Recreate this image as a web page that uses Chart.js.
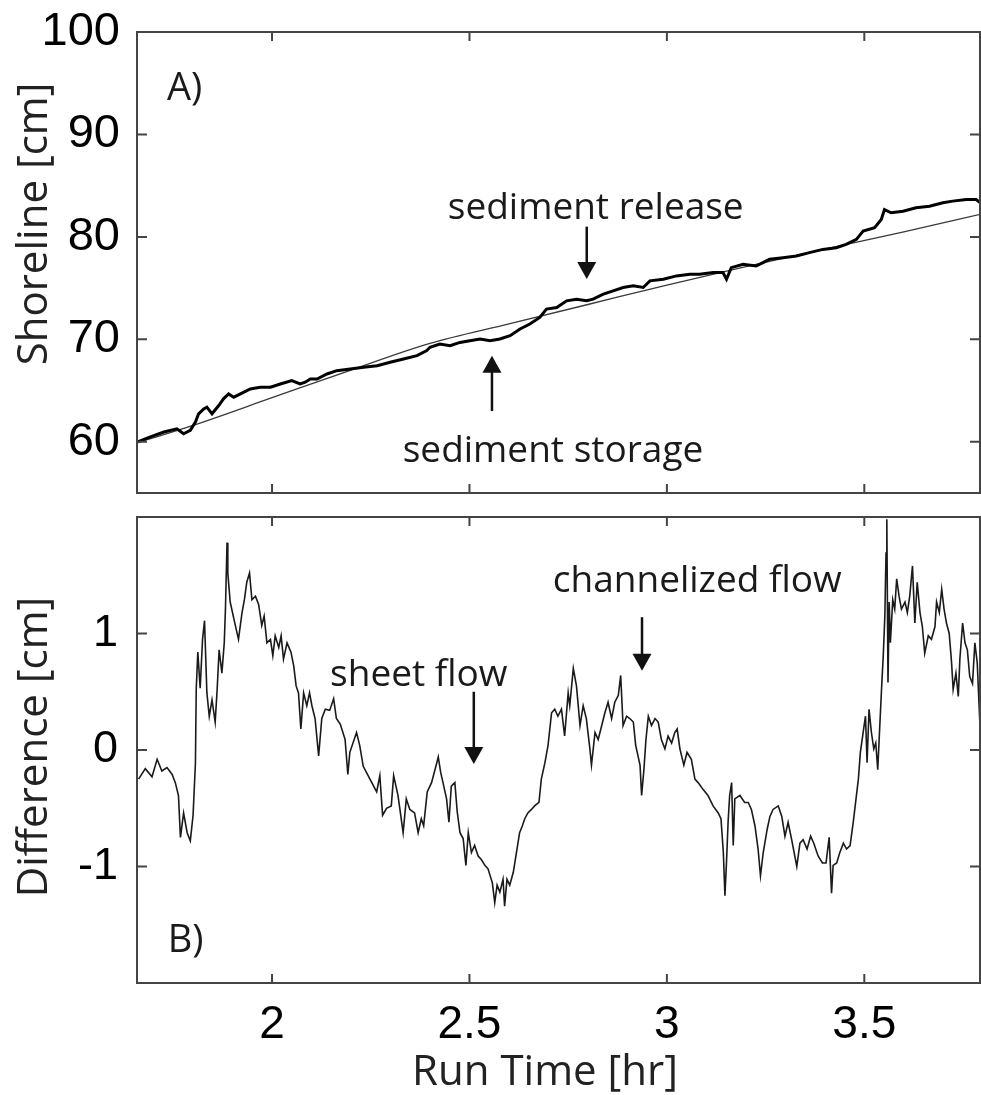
<!DOCTYPE html>
<html>
<head>
<meta charset="utf-8">
<script src="https://cdn.jsdelivr.net/npm/chart.js@4.4.0/dist/chart.umd.min.js"></script>
<style>
body { margin: 0; background: #fff; width: 981px; height: 1095px; position: relative; overflow: hidden; }
#arriba { position: absolute; left: 0; top: 0; }
#abajo { position: absolute; left: 0; top: 505px; }
</style>
</head>
<body>
<canvas id="arriba" width="981" height="505"></canvas>
<canvas id="abajo" width="981" height="590"></canvas>
<script>
// tiempo de corrida [hr] y diferencia [cm] (panel B)
var diffTime = [1.662,1.679,1.696,1.709,1.721,1.734,1.747,1.755,1.763,1.768,1.776,1.785,1.793,1.800,1.806,1.808,1.812,1.818,1.824,1.829,1.835,1.841,1.848,1.856,1.861,1.866,1.873,1.879,1.882,1.886,1.888,1.894,1.907,1.915,1.924,1.930,1.936,1.943,1.949,1.958,1.966,1.974,1.980,1.987,1.996,2.002,2.008,2.017,2.023,2.029,2.038,2.048,2.055,2.061,2.067,2.073,2.080,2.088,2.095,2.101,2.109,2.118,2.126,2.135,2.146,2.156,2.163,2.173,2.185,2.192,
  2.197,2.214,2.222,2.231,2.248,2.265,2.273,2.280,2.290,2.302,2.308,2.319,2.332,2.340,2.349,2.361,2.370,2.378,2.384,2.393,2.404,2.415,2.421,2.427,2.433,2.442,2.448,2.454,2.463,2.469,2.476,2.484,2.491,2.497,2.505,2.513,2.522,2.530,2.539,2.547,2.558,2.564,2.570,2.577,2.585,2.589,2.595,2.602,2.611,2.619,2.627,2.634,2.640,2.648,2.657,2.665,2.676,2.682,2.691,2.699,2.708,2.716,2.724,2.733,2.741,2.750,
  2.754,2.763,2.771,2.780,2.788,2.796,2.805,2.809,2.818,2.826,2.835,2.843,2.851,2.860,2.868,2.877,2.883,2.889,2.898,2.906,2.915,2.921,2.932,2.936,2.942,2.947,2.953,2.961,2.970,2.978,2.986,2.995,3.003,3.012,3.020,3.026,3.033,3.043,3.051,3.062,3.071,3.079,3.092,3.104,3.117,3.130,3.137,3.143,3.147,3.151,3.155,3.159,3.164,3.168,3.172,3.185,3.197,3.206,3.214,3.223,3.231,3.237,3.244,3.254,
  3.261,3.269,3.282,3.291,3.299,3.307,3.316,3.329,3.337,3.345,3.355,3.364,3.372,3.383,3.394,3.403,3.411,3.417,3.421,3.430,3.438,3.447,3.455,3.464,3.472,3.479,3.485,3.490,3.497,3.503,3.507,3.512,3.518,3.524,3.529,3.534,3.538,3.544,3.548,3.552,3.555,3.557,3.560,3.563,3.566,3.572,3.577,3.582,3.588,3.594,3.603,3.609,3.615,3.622,3.628,3.634,3.641,3.647,3.653,3.662,3.670,3.679,3.683,3.690,3.696,3.702,3.708,3.715,3.721,3.725,3.732,3.738,3.742,3.749,3.755,3.761,3.767,3.774,3.780,3.786,3.793];
var diffCm = [-0.25,-0.16,-0.23,-0.08,-0.18,-0.15,-0.21,-0.28,-0.39,-0.75,-0.54,-0.71,-0.78,-0.56,-0.11,0.52,0.84,0.53,0.95,1.11,0.49,0.29,0.43,0.24,0.52,0.86,0.66,0.92,1.21,1.78,1.52,1.27,1.07,0.95,1.18,1.29,1.44,1.52,1.29,1.32,1.25,1.07,1.15,0.92,0.95,0.81,0.98,0.88,0.98,0.78,0.92,0.84,0.72,0.55,0.49,0.18,0.49,0.38,0.49,0.38,0.27,-0.05,0.27,0.35,0.34,0.44,0.27,0.22,0.09,-0.21,
  -0.02,0.15,0.04,-0.14,-0.25,-0.36,-0.22,-0.56,-0.50,-0.48,-0.22,-0.39,-0.71,-0.42,-0.51,-0.54,-0.71,-0.59,-0.65,-0.36,-0.28,-0.14,-0.06,-0.19,-0.28,-0.42,-0.62,-0.31,-0.28,-0.53,-0.71,-0.76,-0.99,-0.71,-0.88,-0.82,-0.91,-0.94,-0.99,-1.02,-1.14,-1.31,-1.16,-1.22,-1.11,-1.34,-1.11,-1.16,-1.05,-0.88,-0.71,-0.65,-0.59,-0.54,-0.51,-0.48,-0.45,-0.25,-0.11,0.04,0.32,0.35,0.29,0.35,0.12,0.49,
  0.38,0.70,0.55,0.21,0.38,0.27,0.01,-0.13,0.15,0.09,0.21,0.32,0.41,0.27,0.41,0.47,0.64,0.21,0.29,0.27,0.24,0.04,-0.13,-0.39,-0.16,0.09,0.29,0.21,0.27,0.24,0.09,0.01,0.12,0.06,0.15,0.18,0.01,-0.13,-0.02,-0.08,-0.25,-0.28,-0.34,-0.39,-0.48,-0.54,-0.59,-0.88,-1.25,-0.96,-0.62,-0.39,-0.28,-0.82,-0.42,-0.39,-0.45,-0.45,-0.51,-0.65,-0.85,-1.08,-0.88,-0.68,
  -0.57,-0.51,-0.48,-0.57,-0.74,-0.62,-0.77,-1.00,-0.80,-0.77,-0.85,-0.74,-0.80,-0.91,-0.97,-0.97,-0.75,-1.23,-0.99,-0.97,-0.88,-0.80,-0.85,-0.82,-0.62,-0.42,-0.25,-0.02,0.15,0.29,-0.11,0.35,0.15,0.01,0.06,-0.17,0.12,0.55,0.81,1.15,1.69,1.98,0.58,1.27,0.92,1.29,1.21,1.47,1.32,1.21,1.27,1.18,1.32,1.58,1.09,1.44,1.18,1.06,0.83,0.98,0.95,1.06,1.27,1.18,1.38,1.21,1.09,1.00,0.75,0.52,0.66,0.46,0.78,1.09,0.92,0.86,0.63,0.57,0.92,0.75,0.20];

// linea de costa medida [cm] (panel A)
var shoreTime = [1.658,1.692,1.726,1.759,1.776,1.793,1.806,1.814,1.827,1.835,1.848,1.865,1.877,1.890,1.903,1.920,1.945,1.970,1.996,2.021,2.050,2.071,2.084,2.097,2.114,2.139,2.164,2.198,2.232,2.266,2.299,2.333,2.367,2.392,
  2.400,2.425,2.451,2.476,2.501,2.527,2.552,2.577,2.603,2.628,2.653,2.678,2.695,2.721,2.746,2.771,2.797,2.813,2.839,2.864,2.889,2.915,2.940,2.957,2.991,3.024,3.058,
  3.083,3.117,3.142,3.151,3.163,3.193,3.226,3.260,3.294,3.328,3.361,3.395,3.429,3.454,3.480,3.497,3.526,3.543,3.551,3.568,3.598,3.631,3.665,3.699,3.724,3.758,3.783,3.794];
var shoreCm = [59.97,60.47,60.95,61.27,60.78,61.11,61.92,62.73,63.21,63.38,62.73,63.54,64.19,64.67,64.35,64.67,65.16,65.32,65.32,65.64,65.97,65.64,65.81,66.13,66.13,66.62,66.94,67.11,67.27,67.43,67.76,68.08,68.41,68.90,
  69.22,69.54,69.38,69.70,69.87,70.03,69.87,70.03,70.36,71.01,71.49,72.14,72.95,73.11,73.76,73.92,73.76,73.92,74.41,74.73,75.06,75.22,75.06,75.71,75.87,76.19,76.35,
  76.35,76.52,76.52,75.87,77.00,77.33,77.16,77.81,77.97,78.13,78.46,78.78,78.94,79.27,79.76,80.57,80.89,81.70,82.67,82.35,82.51,82.84,83.00,83.33,83.49,83.65,83.65,83.33];

// ajuste suave (linea delgada)
var fitTime = [1.658,1.8,2.0,2.2,2.4,2.6,2.8,3.0,3.2,3.4,3.6,3.794];
var fitCm = [59.9,61.6,64.3,67.0,69.6,71.5,73.4,75.3,77.1,78.8,80.5,82.2];

var xTicks = [2, 2.5, 3, 3.5];
var shoreTicks = [60, 70, 80, 90, 100];
var diffTicks = [-1, 0, 1];

var xMin = 1.658, xMax = 3.793;

function pares(xs, ys) {
    var out = [];
    for (var i = 0; i < xs.length; i++) {
        out.push({ x: xs[i], y: ys[i] });
    }
    return out;
}

// ancho fijo del eje y, sin relleno extra por las etiquetas
function ejeY(s) {
    s.width = 137;
    s.paddingTop = 0;
    s.paddingBottom = 0;
}

function marco(id, extra) {
    return {
        id: id,
        afterDatasetsDraw: function(chart) {
            var ctx = chart.ctx;
            var a = chart.chartArea;
            var xs = chart.scales.x;
            var ys = chart.scales.y;
            ctx.save();
            ctx.strokeStyle = '#444';
            ctx.lineWidth = 2;
            ctx.strokeRect(a.left, a.top, a.right - a.left, a.bottom - a.top);
            ctx.beginPath();
            xTicks.forEach(function(v) {
                var p = xs.getPixelForValue(v);
                ctx.moveTo(p, a.bottom); ctx.lineTo(p, a.bottom - 9);
                ctx.moveTo(p, a.top); ctx.lineTo(p, a.top + 9);
            });
            extra.yTicks.forEach(function(v) {
                var p = ys.getPixelForValue(v);
                ctx.moveTo(a.left, p); ctx.lineTo(a.left + 10, p);
                ctx.moveTo(a.right, p); ctx.lineTo(a.right - 10, p);
            });
            ctx.stroke();

            ctx.fillStyle = '#111';
            ctx.strokeStyle = '#111';
            ctx.lineWidth = 2.5;
            extra.flechas.forEach(function(f) {
                var x = xs.getPixelForValue(f.x);
                var y0 = ys.getPixelForValue(f.desde);
                var y1 = ys.getPixelForValue(f.hasta);
                var dir = y1 > y0 ? 1 : -1;
                ctx.beginPath();
                ctx.moveTo(x, y0);
                ctx.lineTo(x, y1 - dir * 15);
                ctx.stroke();
                ctx.beginPath();
                ctx.moveTo(x - 9.5, y1 - dir * 17);
                ctx.lineTo(x + 9.5, y1 - dir * 17);
                ctx.lineTo(x, y1);
                ctx.closePath();
                ctx.fill();
            });

            ctx.fillStyle = '#1a1a1a';
            ctx.textAlign = 'left';
            ctx.textBaseline = 'alphabetic';
            extra.notas.forEach(function(n) {
                ctx.font = n.size + 'px "Open Sans"';
                ctx.fillText(n.text, xs.getPixelForValue(n.x), ys.getPixelForValue(n.y));
            });

            ctx.font = '42px "Open Sans"';
            ctx.fillStyle = '#222';
            extra.titulos.forEach(function(t) {
                ctx.save();
                ctx.translate(t.cx, t.cy);
                ctx.rotate(t.rot);
                ctx.textAlign = 'center';
                ctx.textBaseline = t.base;
                ctx.fillText(t.text, 0, 0);
                ctx.restore();
            });
            ctx.restore();
        }
    };
}

Chart.defaults.font.family = '"Liberation Sans", Arial, sans-serif';
Chart.defaults.color = '#000';

var chartA = new Chart(document.getElementById('arriba'), {
    type: 'line',
    data: {
        datasets: [{
            data: pares(shoreTime, shoreCm),
            borderColor: '#000',
            borderWidth: 3,
            pointRadius: 0,
            tension: 0
        }, {
            data: pares(fitTime, fitCm),
            borderColor: '#3a3a3a',
            borderWidth: 1.3,
            pointRadius: 0,
            cubicInterpolationMode: 'monotone'
        }]
    },
    options: {
        responsive: false,
        animation: false,
        devicePixelRatio: 1,
        layout: { padding: { top: 32, right: 1, bottom: 12, left: 0 } },
        plugins: { legend: { display: false }, tooltip: { enabled: false } },
        scales: {
            x: { type: 'linear', min: xMin, max: xMax, display: false },
            y: {
                min: 55, max: 100,
                afterBuildTicks: function(s) { s.ticks = shoreTicks.map(function(v) { return { value: v }; }); },
                afterFit: ejeY,
                grid: { display: false },
                border: { display: false },
                ticks: { font: { size: 47 }, padding: 9, color: '#000' }
            }
        }
    },
    plugins: [marco('marcoA', {
        yTicks: shoreTicks,
        flechas: [
            { x: 2.797, desde: 81.0, hasta: 75.9 },
            { x: 2.557, desde: 63.0, hasta: 68.4 }
        ],
        notas: [
            { text: 'A)', x: 1.734, y: 93.4, size: 38 },
            { text: 'sediment release', x: 2.445, y: 81.7, size: 37 },
            { text: 'sediment storage', x: 2.331, y: 58.05, size: 37 }
        ],
        titulos: [
            { text: 'Shoreline [cm]', cx: 35, cy: 224, rot: -Math.PI / 2, base: 'middle' }
        ]
    })]
});

var chartB = new Chart(document.getElementById('abajo'), {
    type: 'line',
    data: {
        datasets: [{
            data: pares(diffTime, diffCm),
            borderColor: '#1a1a1a',
            borderWidth: 1.6,
            pointRadius: 0,
            tension: 0
        }]
    },
    options: {
        responsive: false,
        animation: false,
        devicePixelRatio: 1,
        layout: { padding: { top: 12, right: 1, bottom: 52, left: 0 } },
        plugins: { legend: { display: false }, tooltip: { enabled: false } },
        scales: {
            x: {
                type: 'linear', min: xMin, max: xMax,
                afterBuildTicks: function(s) { s.ticks = xTicks.map(function(v) { return { value: v }; }); },
                afterFit: function(s) { s.height = 60; s.paddingLeft = 0; s.paddingRight = 0; },
                grid: { display: false },
                border: { display: false },
                ticks: { font: { size: 46 }, padding: 7, color: '#000', autoSkip: false, maxRotation: 0,
                    callback: function(v) { return String(v); } }
            },
            y: {
                min: -2, max: 2,
                afterBuildTicks: function(s) { s.ticks = diffTicks.map(function(v) { return { value: v }; }); },
                afterFit: ejeY,
                grid: { display: false },
                border: { display: false },
                ticks: { font: { size: 45 }, padding: 11, color: '#000' }
            }
        }
    },
    plugins: [marco('marcoB', {
        yTicks: diffTicks,
        flechas: [
            { x: 2.511, desde: 0.50, hasta: -0.12 },
            { x: 2.937, desde: 1.14, hasta: 0.68 }
        ],
        notas: [
            { text: 'sheet flow', x: 2.147, y: 0.55, size: 37 },
            { text: 'channelized flow', x: 2.711, y: 1.36, size: 37 },
            { text: 'B)', x: 1.736, y: -1.73, size: 38 }
        ],
        titulos: [
            { text: 'Difference [cm]', cx: 35, cy: 242, rot: -Math.PI / 2, base: 'middle' },
            { text: 'Run Time [hr]', cx: 545, cy: 580, rot: 0, base: 'alphabetic' }
        ]
    })]
});
</script>
</body>
</html>
